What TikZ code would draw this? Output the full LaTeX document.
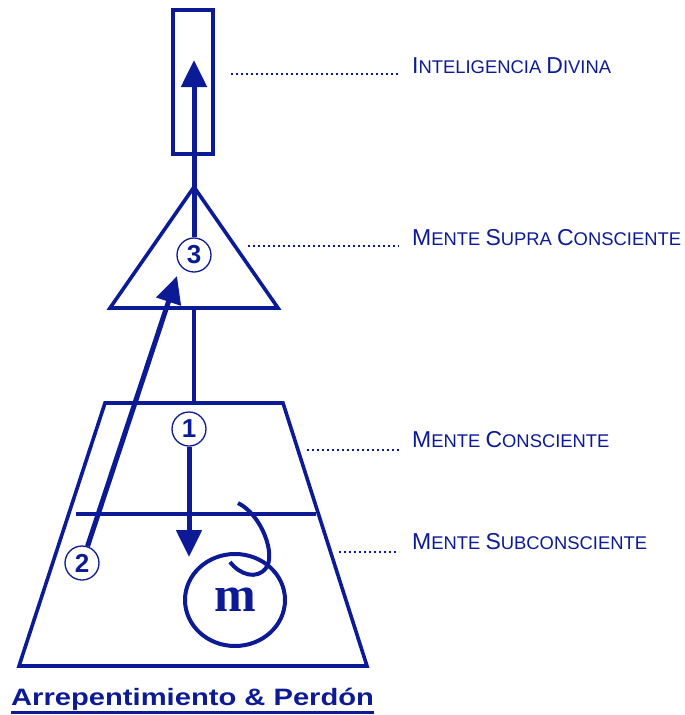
\documentclass[tikz,border=0pt]{standalone}
\usepackage{fontspec}
\setmainfont{Liberation Sans}
\newfontfamily\serifm{Liberation Serif}
\usetikzlibrary{arrows.meta, positioning, calc, shapes.geometric}
\definecolor{azul}{RGB}{12,26,150}
\newcommand{\scword}[2]{{\fontsize{23}{26}\selectfont #1}{\fontsize{18.4}{22}\selectfont #2}}

\begin{document}
\begin{tikzpicture}[x=1pt, y=-1pt, >={Triangle[length=27pt,width=25pt]},
    outline/.style={draw=azul, line width=3.6pt, line join=miter},
    arrow/.style={azul, line width=5pt, ->},
    num/.style={circle, draw=azul, line width=1.3pt, minimum size=34pt, inner sep=0,
      text=azul, font=\fontsize{26}{26}\selectfont\bfseries},
    leader/.style={azul, line width=2.3pt, dash pattern=on 2.3pt off 2.7pt, shorten >=13pt},
    label/.style={anchor=base west, inner sep=0, text=azul, font=\fontsize{18.4}{22}\selectfont}]
  \useasboundingbox (0,0) rectangle (685,715);

  % levels of the mind
  \node[outline, minimum width=40pt, minimum height=144pt, inner sep=0] (divino) at (193,82) {};
  \coordinate (apex) at (194,187);
  \coordinate (tribl) at (110,308);
  \coordinate (tribr) at (278,308);
  \draw[outline] (apex) -- (tribl) -- (tribr) -- cycle;
  \coordinate (trtl) at (105,403);
  \coordinate (trtr) at (283,403);
  \coordinate (trbl) at (19,666);
  \coordinate (trbr) at (367,666);
  \draw[outline] (trtl) -- (trtr) -- (trbr) -- (trbl) -- cycle;
  \draw[outline, line width=3.2pt] (76,514) -- (316,514);
  \draw[outline, line width=3.4pt] ($(tribl)!0.5!(tribr)$) -- ($(trtl)!0.5!(trtr)$);

  % steps
  \node[num] (uno) at (189,429) {1};
  \node[num] (dos) at (82,563) {2};
  \node[num] (tres) at (194,255) {3};
  \node[ellipse, draw=azul, line width=4pt, minimum width=100pt, minimum height=92pt, inner sep=0,
    text=azul, font=\serifm\bfseries\fontsize{50}{50}\selectfont] (m) at (235,600) {m};
  \draw[azul, line width=4pt] (238,503) .. controls (262,515) and (276,555) .. (266,568)
    .. controls (257,580) and (240,575) .. (230,562);

  \coordinate (cima) at (194,60);
  \draw[arrow] (tres) -- (cima);
  \coordinate (mtop) at (189,557);
  \draw[arrow] (uno) -- (mtop);
  \coordinate (supra) at (177,276);
  \draw[arrow] (dos) -- (supra);

  % labels
  \node[label] (ldiv) at (412,73) {\scword{I}{NTELIGENCIA} \scword{D}{IVINA}};
  \node[label] (lsup) at (412,245) {\scword{M}{ENTE} \scword{S}{UPRA} \scword{C}{ONSCIENTE}};
  \node[label] (lcon) at (412,447) {\scword{M}{ENTE} \scword{C}{ONSCIENTE}};
  \node[label] (lsub) at (412,549) {\scword{M}{ENTE} \scword{S}{UBCONSCIENTE}};
  \coordinate (pdiv) at (231,74);
  \coordinate (psup) at (248,246);
  \coordinate (pcon) at (307,450);
  \coordinate (psub) at (339,552);
  \draw[leader] (pdiv) -- (pdiv -| ldiv.west);
  \draw[leader] (psup) -- (psup -| lsup.west);
  \draw[leader] (pcon) -- (pcon -| lcon.west);
  \draw[leader] (psub) -- (psub -| lsub.west);

  \node[anchor=base west, inner sep=0, text=azul, font=\fontsize{23.7}{28}\selectfont\bfseries]
    (titulo) at (11,705) {\scalebox{1.23}[1]{Arrepentimiento \& Perdón}};
  \draw[azul, line width=2.2pt] ([yshift=-7.5pt]titulo.base west) -- ([yshift=-7.5pt]titulo.base east);
\end{tikzpicture}
\end{document}
